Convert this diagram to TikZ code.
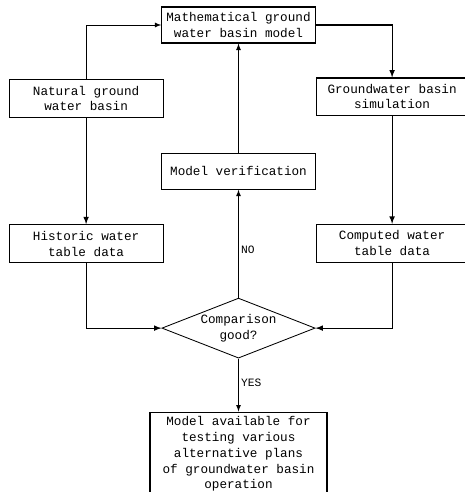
\documentclass[tikz,border=0pt]{standalone}
\usepackage{fontspec}
\newfontfamily\typefont{Liberation Mono}
\usetikzlibrary{positioning,arrows,shapes.geometric}
\tikzset{>=latex, node distance = 2cm,
  blk/.style={draw, thick, align=center, inner sep=2pt,
    minimum width=3.85cm, minimum height=0.95cm,
    font=\typefont\fontsize{9}{11.2}\selectfont},
  dec/.style={draw, semithick, diamond, aspect=2.5, inner sep=0pt,
    align=center, minimum width=3.83cm, minimum height=1.5cm,
    font=\typefont\fontsize{9}{11.2}\selectfont},
  lbl/.style={font=\typefont\fontsize{8}{9}\selectfont, inner sep=1.5pt}}

\begin{document}
\begin{tikzpicture}
			\useasboundingbox (-5.9625,0.625) rectangle (5.6375,-11.675);
			\node (math) [blk, minimum width=3.83cm, minimum height=0.9cm] at (0,0) {Mathematical ground\\water basin model};
			\node (nat) [blk] at (-3.81,-1.84) {Natural ground\\water basin};
			\node (sim) [blk, minimum width=3.8cm, minimum height=0.93cm] at (3.84,-1.79) {Groundwater basin\\simulation};
			\node (ver) [blk, minimum height=0.9cm, below=2.725cm of math] {Model verification};
			\node (his) [blk, below=2.65cm of nat] {Historic water\\table data};
			\node (comp) [blk, minimum width=3.8cm, below=2.7cm of sim] {Computed water\\table data};
			\node (cmp) [dec, below=2.7cm of ver] {Comparison\\good?};
			\node (fin) [blk, minimum width=4.425cm, minimum height=2.1cm, below=1.325cm of cmp] {Model available for\\testing various\\alternative plans\\of groundwater basin\\operation};
			\draw[->,semithick] (nat.north) |- (math.west);
			\draw[->,thick] (math.east) -| (sim.north);
			\draw[->,thick] (nat) -- (his);
			\draw[->,thick] (sim) -- (comp);
			\draw[->,thick] (his.south) |- (cmp.west);
			\draw[->,thick] (comp.south) |- (cmp.east);
			\draw[->,semithick] (cmp.north) -- node[lbl, right, pos=0.44] {NO} (ver.south);
			\draw[->,semithick] (ver) -- (math);
			\draw[->,semithick] (cmp.south) -- node[lbl, right, pos=0.45] {YES} (fin.north);
		\end{tikzpicture}
\end{document}
